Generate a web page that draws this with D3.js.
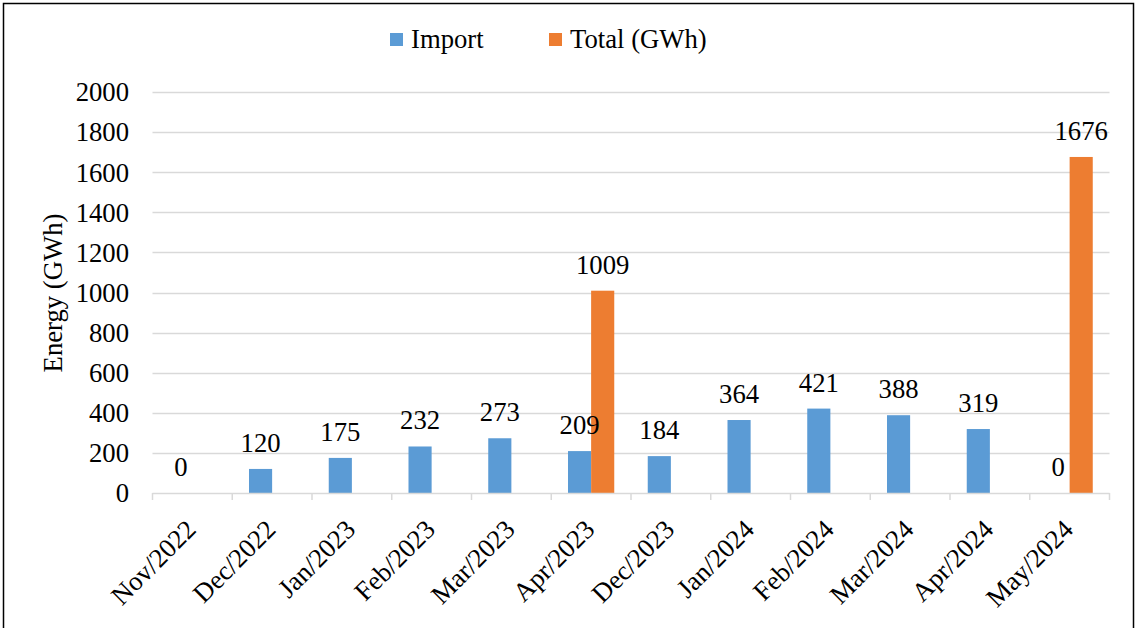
<!DOCTYPE html>
<html>
<head>
<meta charset="utf-8">
<script src="https://cdn.jsdelivr.net/npm/d3@7/dist/d3.min.js"></script>
<style>
  html, body { margin: 0; padding: 0; background: #fff; }
  svg { display: block; }
  text { font-family: "Liberation Serif", "Times New Roman", serif; fill: #000; }
</style>
</head>
<body>
<svg id="chart" width="1137" height="628"></svg>
<script>
const categories = ["Nov/2022","Dec/2022","Jan/2023","Feb/2023","Mar/2023","Apr/2023","Dec/2023","Jan/2024","Feb/2024","Mar/2024","Apr/2024","May/2024"];
const importValues = [0,120,175,232,273,209,184,364,421,388,319,0];
const totalValues = [null,null,null,null,null,1009,null,null,null,null,null,1676];
const yTicks = [0,200,400,600,800,1000,1200,1400,1600,1800,2000];
const seriesNames = ["Import","Total (GWh)"];
const seriesColors = ["#5B9BD5","#ED7D31"];

(function(){
const svg = d3.select("#chart");
const fs = 26.7;

// border
svg.append("rect").attr("x",3.5).attr("y",3.5).attr("width",1130).attr("height",640)
  .attr("fill","none").attr("stroke","#000").attr("stroke-width",1.5);

const pLeft = 152.5, pRight = 1109.5, pTop = 92, pBottom = 493;
const x = d3.scaleBand().domain(categories).range([pLeft,pRight]).paddingInner(0).paddingOuter(0);
const y = d3.scaleLinear().domain([0,2000]).range([pBottom, pTop]);
const barW = x.bandwidth() * 0.29;

// gridlines
svg.append("g").selectAll("line").data(yTicks.filter(d=>d>0)).join("line")
  .attr("x1",pLeft).attr("x2",pRight)
  .attr("y1",d=>Math.round(y(d))+0.5).attr("y2",d=>Math.round(y(d))+0.5)
  .attr("stroke","#D9D9D9").attr("stroke-width",1.5);

// y tick labels
svg.append("g").selectAll("text").data(yTicks).join("text")
  .attr("x",129).attr("y",d=>y(d)).attr("dy","0.35em")
  .attr("text-anchor","end").style("font-size",fs+"px").text(d=>d);

// y title
svg.append("text").attr("transform",`translate(${62},${293}) rotate(-90)`)
  .attr("text-anchor","middle").style("font-size",fs+"px").text("Energy (GWh)");

// bars
const cx = d => x(d) + x.bandwidth()/2;
svg.append("g").selectAll("rect").data(categories.map((c,i)=>({c,v:importValues[i]}))).join("rect")
  .attr("x",d=>cx(d.c)-barW).attr("width",barW)
  .attr("y",d=>y(d.v)).attr("height",d=>pBottom-y(d.v))
  .attr("fill",seriesColors[0]);
svg.append("g").selectAll("rect").data(categories.map((c,i)=>({c,v:totalValues[i]})).filter(d=>d.v!=null)).join("rect")
  .attr("x",d=>cx(d.c)).attr("width",barW)
  .attr("y",d=>y(d.v)).attr("height",d=>pBottom-y(d.v))
  .attr("fill",seriesColors[1]);

// x axis
const xAxis = svg.append("g");
xAxis.append("line").attr("x1",pLeft).attr("x2",pRight).attr("y1",pBottom+0.5).attr("y2",pBottom+0.5)
  .attr("stroke","#D9D9D9").attr("stroke-width",1.5);
const tickXs = categories.map(c=>x(c)).concat([pRight]);
xAxis.selectAll("line.tick").data(tickXs).join("line").attr("class","tick")
  .attr("x1",d=>d).attr("x2",d=>d).attr("y1",pBottom).attr("y2",pBottom+7)
  .attr("stroke","#D9D9D9").attr("stroke-width",1.5);

// x labels
svg.append("g").selectAll("text").data(categories).join("text")
  .attr("transform",d=>`translate(${cx(d)+5},${pBottom+38}) rotate(-45)`)
  .attr("text-anchor","end").style("font-size",fs+"px").text(d=>d);

// data labels
svg.append("g").selectAll("text").data(categories.map((c,i)=>({c,v:importValues[i]}))).join("text")
  .attr("x",d=>cx(d.c)-barW/2).attr("y",d=>y(d.v)-17)
  .attr("text-anchor","middle").style("font-size",fs+"px").text(d=>d.v);
svg.append("g").selectAll("text").data(categories.map((c,i)=>({c,v:totalValues[i]})).filter(d=>d.v!=null)).join("text")
  .attr("x",d=>cx(d.c)+barW/2).attr("y",d=>y(d.v)-17)
  .attr("text-anchor","middle").style("font-size",fs+"px").text(d=>d.v);

// legend
const legX = [390, 549];
const leg = svg.append("g").selectAll("g").data(seriesNames).join("g")
  .attr("transform",(d,i)=>`translate(${legX[i]},33)`);
leg.append("rect").attr("width",13).attr("height",13).attr("fill",(d,i)=>seriesColors[i]);
leg.append("text").attr("x",21).attr("y",15).style("font-size",fs+"px").text(d=>d);
})();
</script>
</body>
</html>
